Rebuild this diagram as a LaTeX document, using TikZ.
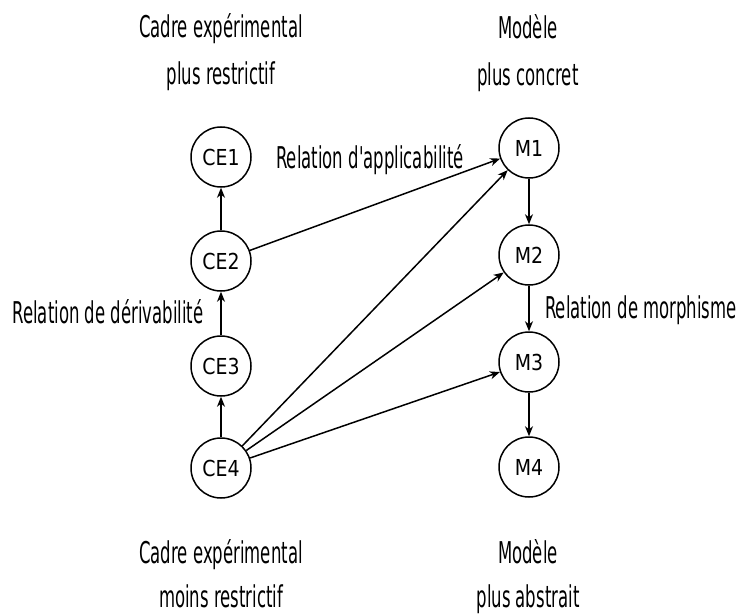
\documentclass[tikz,border=0pt]{standalone}
\usepackage{fontspec}
\setmainfont{DejaVu Sans}
\newfontfamily\condfont[FakeStretch=0.55]{DejaVu Sans}
\newfontfamily\nodefont[FakeStretch=0.86]{DejaVu Sans}
\usetikzlibrary{arrows.meta}
\begin{document}
\begin{tikzpicture}[x=1pt,y=-1pt,
  state/.style={circle,draw,line width=1.5pt,minimum size=60pt,inner sep=0pt,font=\nodefont\fontsize{22}{24}\selectfont},
  lbl/.style={font=\condfont\fontsize{30}{36}\selectfont,anchor=base,inner sep=0pt},
  conn/.style={line width=1.5pt,-{Stealth[length=10pt,width=8pt,inset=3pt]}}]
\useasboundingbox (0,0) rectangle (739,615);
\node[state] (CE1) at (221,157) {CE1};
\node[state] (CE2) at (221,261) {CE2};
\node[state] (CE3) at (221,366) {CE3};
\node[state] (CE4) at (221,468) {CE4};
\node[state] (M1) at (529,148) {M1};
\node[state] (M2) at (529,255) {M2};
\node[state] (M3) at (529,362) {M3};
\node[state] (M4) at (529,467) {M4};
\node[lbl] (t1a) at (221,38) {Cadre expérimental};
\node[lbl] (t1b) at (221,85) {plus restrictif};
\node[lbl] (t2a) at (528,39) {Modèle};
\node[lbl] (t2b) at (528,86) {plus concret};
\node[lbl] (t3a) at (221,563) {Cadre expérimental};
\node[lbl] (t3b) at (221,607) {moins restrictif};
\node[lbl] (t4a) at (528,563) {Modèle};
\node[lbl] (t4b) at (528,607) {plus abstrait};
\node[lbl] (ra) at (370,168) {Relation d'applicabilité};
\node[lbl] (rd) at (108,323) {Relation de dérivabilité};
\node[lbl] (rm) at (641,318) {Relation de morphisme};
\draw[conn] (CE2) -- (CE1);
\draw[conn] (CE3) -- (CE2);
\draw[conn] (CE4) -- (CE3);
\draw[conn] (M1) -- (M2);
\draw[conn] (M2) -- (M3);
\draw[conn] (M3) -- (M4);
\draw[conn] (CE2) -- (M1);
\draw[conn] (CE4) -- (M1);
\draw[conn] (CE4) -- (M2);
\draw[conn] (CE4) -- (M3);
\end{tikzpicture}
\end{document}
